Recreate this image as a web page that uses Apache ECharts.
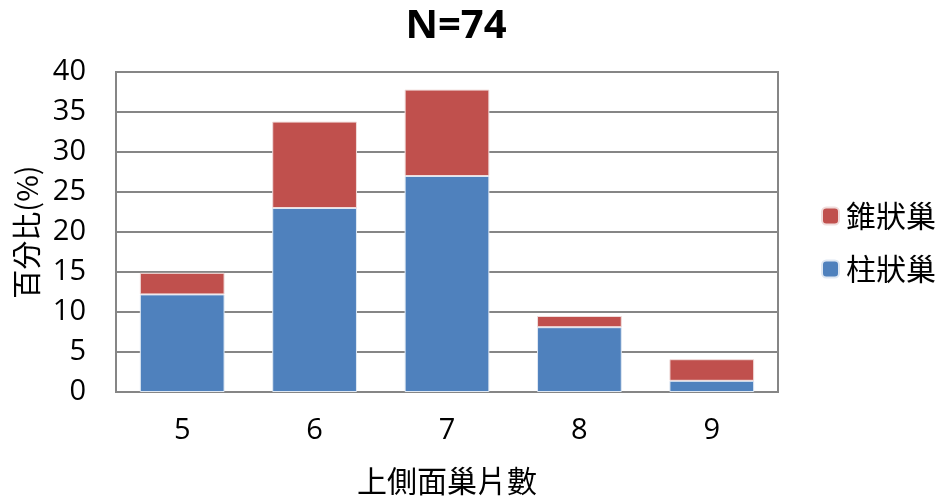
<!DOCTYPE html>
<html>
<head>
<meta charset="utf-8">
<script src="https://cdn.jsdelivr.net/npm/echarts@6/dist/echarts.min.js"></script>
<style>
  html, body { margin: 0; padding: 0; background: #fff; }
  #chart { width: 944px; height: 497px; }
</style>
</head>
<body>
<div id="chart"></div>
<script>
// Number of upper side-face cells per nest (N = 74)
const categories = ['5', '6', '7', '8', '9'];
// Percentage of columnar nests (柱狀巢)
const columnarPct = [12.2, 23.0, 27.0, 8.1, 1.4];
// Percentage of conical nests (錐狀巢), stacked on top
const conicalPct = [2.7, 10.8, 10.8, 1.4, 2.7];
const yTicks = [0, 5, 10, 15, 20, 25, 30, 35, 40];

const latin = '"Open Sans", "Noto Sans", sans-serif';
const cjk = '"Noto Sans CJK TC", "Noto Sans CJK SC", sans-serif';

const chart = echarts.init(document.getElementById('chart'), null, { renderer: 'canvas' });
chart.setOption({
  animation: false,
  backgroundColor: '#ffffff',
  title: {
    text: 'N=74',
    left: 451,
    top: 2,
    textAlign: 'center',
    textStyle: { fontFamily: latin, fontSize: 40, fontWeight: 'bold', color: '#000' }
  },
  grid: {
    left: 116, right: 166, top: 72, bottom: 105,
    containLabel: false,
    outerBoundsMode: 'none',
    show: true, borderColor: '#868686', borderWidth: 2
  },
  legend: {
    orient: 'vertical',
    left: 816,
    top: 196,
    itemWidth: 17,
    itemHeight: 17,
    itemGap: 23,
    data: ['錐狀巢', '柱狀巢'],
    textStyle: { fontFamily: cjk, fontSize: 30, color: '#000', padding: [0, 0, 0, 2] }
  },
  xAxis: {
    type: 'category',
    data: categories,
    name: '上側面巢片數',
    nameLocation: 'middle',
    nameGap: 74,
    nameTextStyle: { fontFamily: cjk, fontSize: 30, color: '#000' },
    axisLine: { show: true, lineStyle: { color: '#868686', width: 2 } },
    axisTick: { show: false },
    axisLabel: { fontFamily: latin, fontSize: 29, color: '#000', margin: 24 }
  },
  yAxis: {
    type: 'value',
    min: yTicks[0],
    max: yTicks[yTicks.length - 1],
    interval: 5,
    name: '百分比(%)',
    nameLocation: 'middle',
    nameGap: 74,
    nameTextStyle: { fontFamily: cjk, fontSize: 29, color: '#000' },
    axisLine: { show: true, lineStyle: { color: '#868686', width: 2 } },
    axisTick: { show: false },
    splitLine: { lineStyle: { color: '#868686', width: 2 } },
    axisLabel: { fontFamily: latin, fontSize: 29, color: '#000', margin: 30 }
  },
  series: [
    {
      name: '柱狀巢',
      type: 'bar',
      stack: 'nest',
      data: columnarPct,
      barCategoryGap: '36%',
      itemStyle: { color: '#4f81bd', borderColor: '#dfe8f3', borderWidth: 1 }
    },
    {
      name: '錐狀巢',
      type: 'bar',
      stack: 'nest',
      data: conicalPct,
      barCategoryGap: '36%',
      itemStyle: { color: '#c0504d', borderColor: '#f0dcdb', borderWidth: 1 }
    }
  ]
});
</script>
</body>
</html>
